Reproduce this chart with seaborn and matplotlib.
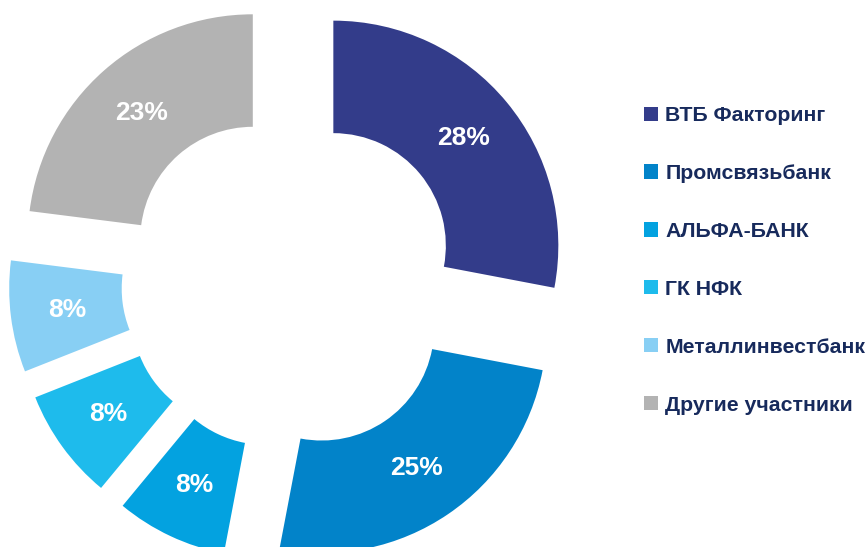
import matplotlib
matplotlib.use("Agg")
import matplotlib.pyplot as plt
import seaborn as sns

# data
participants = ['ВТБ Факторинг', 'Промсвязьбанк', 'АЛЬФА-БАНК', 'ГК НФК',
                'Металлинвестбанк', 'Другие участники']
shares = [28, 25, 8, 8, 8, 23]
colors = ['#333C8A', '#0283C9', '#03A2E0', '#1EBBEC', '#88CFF4', '#B3B3B3']

sns.set_theme(style='white')
plt.rcParams['font.family'] = ['Liberation Sans', 'DejaVu Sans']

fig = plt.figure(figsize=(8.68, 5.47), dpi=100)
ax = fig.add_axes([0, 0, 1, 1])

wedges, texts, autotexts = ax.pie(
    shares,
    colors=colors,
    startangle=90,
    counterclock=False,
    explode=[0.25] * len(shares),
    radius=1.0,
    wedgeprops=dict(width=0.5, linewidth=0),
    autopct='%d%%',
    pctdistance=0.75,
    textprops=dict(color='white', fontsize=19, fontweight='bold'),
)

# donut centre sits left of the legend, bottom is cut off by the figure
ax.set_xlim(-290 / 225, (868 - 290) / 225)
ax.set_ylim(-265.5 / 225, 281.5 / 225)
ax.set_aspect('equal', adjustable='datalim')
ax.axis('off')

leg = fig.legend(
    wedges, participants,
    loc='upper left',
    bbox_to_anchor=(0.742, 0.806),
    frameon=False,
    borderpad=0, borderaxespad=0,
    handlelength=0.65, handleheight=0.65, handletextpad=0.35,
    labelspacing=1.83,
    prop=dict(family='Liberation Sans', weight='bold', size=15.3),
)
for t in leg.get_texts():
    t.set_color('#172a5c')

fig.savefig('out.png', dpi=100)
